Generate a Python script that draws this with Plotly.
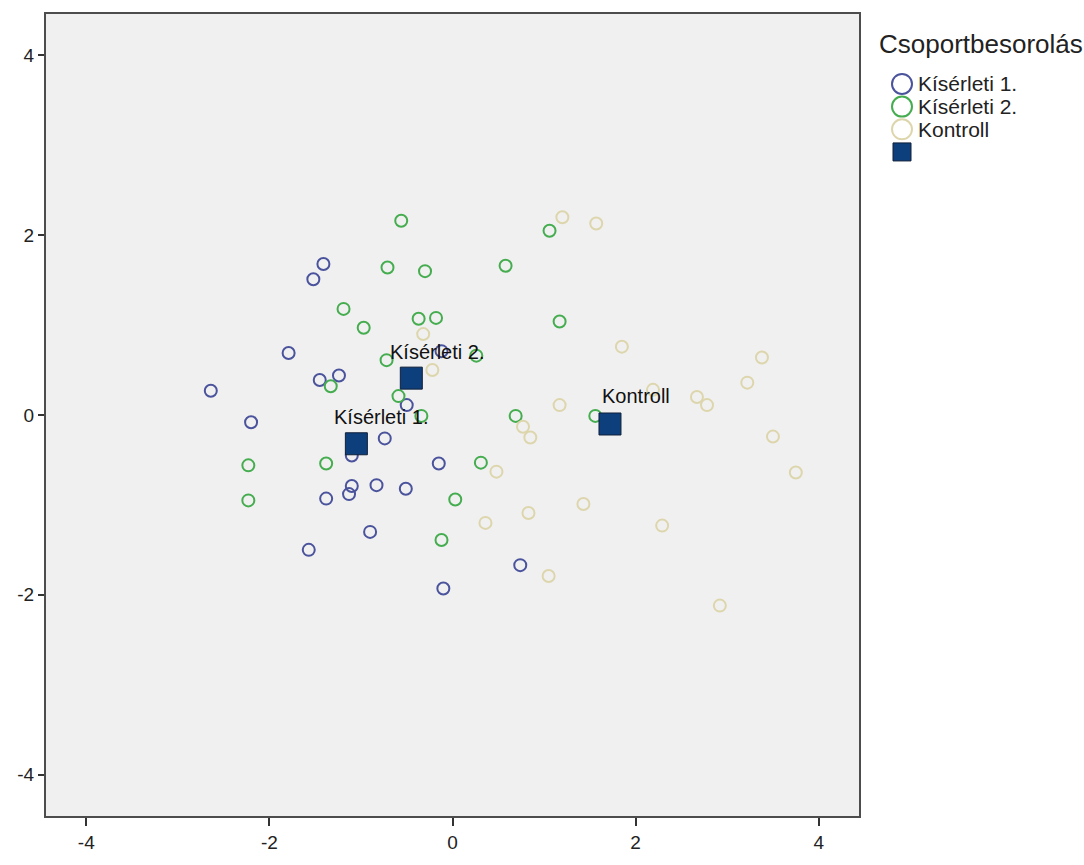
import plotly.graph_objects as go

# Discriminant function scores (function 1, function 2) for each group
k1_x = [-1.41, -1.52, -1.79, -0.12, -1.24, -1.45, -2.64, -0.50, -2.20, -1.10, -0.74,
        -0.15, -1.38, -1.10, -1.13, -0.83, -0.51, -0.90, -1.57, -0.10, 0.74]
k1_y = [1.68, 1.51, 0.69, 0.71, 0.44, 0.39, 0.27, 0.11, -0.08, -0.45, -0.26,
        -0.54, -0.93, -0.79, -0.88, -0.78, -0.82, -1.30, -1.50, -1.93, -1.67]

k2_x = [-0.56, -0.71, -0.30, 0.58, -1.19, -0.97, -0.37, -0.18, -0.72, 0.26, -1.33, -0.59,
        -0.34, -2.23, -1.38, 0.31, -2.23, 0.03, -0.12, 1.06, 1.17, 0.69, 1.56]
k2_y = [2.16, 1.64, 1.60, 1.66, 1.18, 0.97, 1.07, 1.08, 0.61, 0.66, 0.32, 0.21,
        -0.01, -0.56, -0.54, -0.53, -0.95, -0.94, -1.39, 2.05, 1.04, -0.01, -0.01]

ko_x = [-0.32, -0.22, 0.48, 0.36, 1.20, 1.57, 1.85, 3.38, 3.22, 2.19, 2.67,
        2.78, 1.17, 0.77, 0.85, 3.50, 3.75, 1.43, 0.83, 2.29, 1.05, 2.92]
ko_y = [0.90, 0.50, -0.63, -1.20, 2.20, 2.13, 0.76, 0.64, 0.36, 0.28, 0.20,
        0.11, 0.11, -0.13, -0.25, -0.24, -0.64, -0.99, -1.09, -1.23, -1.79, -2.12]

# Group centroids
centroid_names = ["Kísérleti 1.", "Kísérleti 2.", "Kontroll"]
centroid_x = [-1.05, -0.45, 1.72]
centroid_y = [-0.32, 0.41, -0.10]

tick_vals = [-4, -2, 0, 2, 4]
legend_title = "Csoportbesorolás"

FONT = "Liberation Sans, Arial, sans-serif"
W, H = 1084, 865
ML, MR, MT, MB = 46, 225, 14, 37
PW, PH = W - ML - MR, H - MT - MB

BLUE, GREEN, BEIGE = "#4a539c", "#45ad4f", "#ddd6ad"
NAVY, NAVY_EDGE = "#0c3f7c", "#10203a"


def px_x(p):
    return (p - ML) / PW


def px_y(p):
    return (H - MB - p) / PH


fig = go.Figure()

groups = [
    ("Kísérleti 1.", k1_x, k1_y, BLUE),
    ("Kísérleti 2.", k2_x, k2_y, GREEN),
    ("Kontroll", ko_x, ko_y, BEIGE),
]
for name, xs, ys, col in groups:
    fig.add_trace(go.Scatter(
        x=xs, y=ys, mode="markers", name=name, showlegend=False,
        marker=dict(symbol="circle-open", size=12, color=col, line=dict(width=2, color=col)),
    ))

fig.add_trace(go.Scatter(
    x=centroid_x, y=centroid_y, mode="markers", name="Centroid", showlegend=False,
    marker=dict(symbol="square", size=22, color=NAVY, line=dict(width=1, color=NAVY_EDGE)),
))

# Centroid labels
shifts = [(-24, 27), (-23, 26), (-10, 28)]
for name, cx, cy, (sx, sy) in zip(centroid_names, centroid_x, centroid_y, shifts):
    fig.add_annotation(x=cx, y=cy, text=name, showarrow=False, xanchor="left", yanchor="middle",
                       xshift=sx, yshift=sy, font=dict(family=FONT, size=20, color="#111111"))

# Legend block on the right
fig.add_annotation(xref="paper", yref="paper", x=px_x(877), y=px_y(44), text=legend_title,
                   showarrow=False, xanchor="left", yanchor="middle",
                   font=dict(family=FONT, size=26, color="#222222"))
legend_rows = [(centroid_names[0], BLUE, 85), (centroid_names[1], GREEN, 108), (centroid_names[2], BEIGE, 131)]
for label, col, yy in legend_rows:
    fig.add_shape(type="circle", xref="paper", yref="paper", xsizemode="pixel", ysizemode="pixel",
                  xanchor=px_x(902), yanchor=px_y(yy), x0=-10, x1=10, y0=-10, y1=10,
                  line=dict(color=col, width=2), fillcolor="rgba(0,0,0,0)")
    fig.add_annotation(xref="paper", yref="paper", x=px_x(916), y=px_y(yy), text=label,
                       showarrow=False, xanchor="left", yanchor="middle",
                       font=dict(family=FONT, size=21, color="#222222"))
fig.add_shape(type="rect", xref="paper", yref="paper", xsizemode="pixel", ysizemode="pixel",
              xanchor=px_x(902), yanchor=px_y(154), x0=-9, x1=9, y0=-9, y1=9,
              line=dict(color=NAVY_EDGE, width=1), fillcolor=NAVY)

axis_common = dict(
    tickvals=tick_vals, ticktext=[str(v) for v in tick_vals],
    showgrid=False, zeroline=False, showline=True, mirror=True,
    linecolor="#4d4d4d", linewidth=2, ticks="outside", tickwidth=2,
    tickcolor="#333333", tickfont=dict(family=FONT, size=19, color="#222222"),
)

fig.update_layout(
    width=W, height=H,
    margin=dict(l=ML, r=MR, t=MT, b=MB),
    paper_bgcolor="white", plot_bgcolor="#f0f0f0",
    xaxis=dict(**axis_common, range=[-4.44, 4.44], ticklen=8),
    yaxis=dict(**axis_common, range=[-4.46, 4.46], ticklen=6),
    showlegend=False,
)

fig.write_html("out.html")
